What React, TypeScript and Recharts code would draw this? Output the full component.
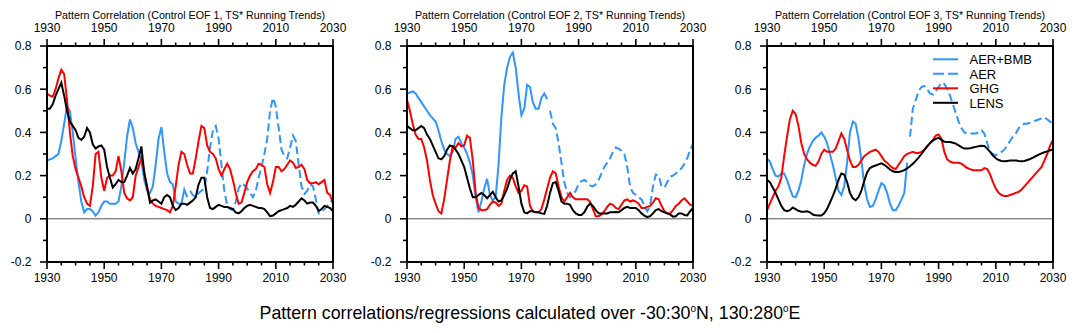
import React from "react";
import { LineChart, Line, XAxis, YAxis, ReferenceLine } from "recharts";

const FONT = "'Liberation Sans', Arial, Helvetica, sans-serif";
const BLUE = "#2f95ff";
const RED = "#ff0000";
const BLACK = "#000000";

const START_YEAR = 1930;
const AER_START = 1980;

const xTicks = [1930, 1935, 1940, 1945, 1950, 1955, 1960, 1965, 1970, 1975, 1980, 1985, 1990, 1995, 2000, 2005, 2010, 2015, 2020, 2025, 2030];
const xLabels = [1930, 1950, 1970, 1990, 2010, 2030];
const yTicks = [-0.2, -0.1, 0, 0.1, 0.2, 0.3, 0.4, 0.5, 0.6, 0.7, 0.8];
const yLabels = [-0.2, 0, 0.2, 0.4, 0.6, 0.8];

// ---- EOF 1 ----
const eof1AerBmb = [
  0.27, 0.275, 0.28, 0.29, 0.3, 0.36, 0.44, 0.52, 0.5, 0.4,
  0.28, 0.17, 0.08, 0.03, 0.045, 0.045, 0.035, 0.015, 0.03, 0.06,
  0.08, 0.08, 0.07, 0.07, 0.07, 0.08, 0.15, 0.26, 0.38, 0.46,
  0.42, 0.35, 0.31, 0.27, 0.18, 0.13, 0.12, 0.15, 0.25, 0.37,
  0.425, 0.31, 0.21, 0.17, 0.16, 0.08, 0.07, 0.07, 0.135, 0.1,
];
const eof1Aer = [
  0.13, 0.11, 0.1, 0.12, 0.13, 0.14, 0.22, 0.33, 0.41, 0.43,
  0.37, 0.25, 0.13, 0.06, 0.045, 0.04, 0.08, 0.14, 0.165, 0.155,
  0.14, 0.12, 0.1, 0.13, 0.19, 0.24, 0.3, 0.37, 0.5, 0.56,
  0.52, 0.42, 0.32, 0.29, 0.28, 0.33, 0.385, 0.36, 0.25, 0.15,
  0.115, 0.13, 0.16, 0.15, 0.09, 0.025, 0.03, 0.045, 0.06, 0.075, 0.09,
];
const eof1Ghg = [
  0.58, 0.57, 0.565, 0.6, 0.65, 0.69, 0.67, 0.55, 0.4, 0.29,
  0.23, 0.19, 0.15, 0.1, 0.07, 0.06, 0.15, 0.3, 0.31, 0.19,
  0.13, 0.19, 0.2, 0.2, 0.22, 0.29, 0.22, 0.12, 0.095, 0.085,
  0.1, 0.2, 0.24, 0.28, 0.22, 0.14, 0.09, 0.07, 0.06, 0.055,
  0.05, 0.045, 0.04, 0.03, 0.06, 0.15, 0.25, 0.31, 0.3, 0.25,
  0.21, 0.21, 0.28, 0.36, 0.43, 0.42, 0.34, 0.31, 0.3, 0.28,
  0.23, 0.2, 0.23, 0.255, 0.23, 0.18, 0.12, 0.07, 0.075, 0.12,
  0.17, 0.2, 0.22, 0.23, 0.255, 0.25, 0.24, 0.16, 0.12, 0.17,
  0.24, 0.24, 0.22, 0.23, 0.25, 0.27, 0.26, 0.235, 0.24, 0.25,
  0.23, 0.18, 0.165, 0.165, 0.17, 0.16, 0.17, 0.18, 0.12, 0.11,
  0.07,
];
const eof1Lens = [
  0.51, 0.51, 0.53, 0.57, 0.6, 0.63, 0.57, 0.5, 0.45, 0.43,
  0.41, 0.375, 0.365, 0.38, 0.42, 0.4, 0.345, 0.325, 0.335, 0.34,
  0.32, 0.24, 0.19, 0.145, 0.16, 0.18, 0.17, 0.17, 0.2, 0.235,
  0.21, 0.23, 0.28, 0.335, 0.21, 0.15, 0.075, 0.085, 0.09, 0.08,
  0.07, 0.1, 0.11, 0.1, 0.06, 0.04, 0.05, 0.07, 0.07, 0.065,
  0.075, 0.085, 0.1, 0.16, 0.19, 0.19, 0.1, 0.05, 0.045, 0.055,
  0.065, 0.06, 0.055, 0.055, 0.05, 0.045, 0.03, 0.025, 0.035, 0.05,
  0.06, 0.065, 0.06, 0.055, 0.05, 0.05, 0.045, 0.03, 0.012, 0.015,
  0.025, 0.035, 0.04, 0.045, 0.05, 0.06, 0.055, 0.065, 0.08, 0.095,
  0.085, 0.07, 0.075, 0.075, 0.06, 0.036, 0.045, 0.06, 0.055, 0.05,
  0.035,
];

// ---- EOF 2 ----
const eof2AerBmb = [
  0.58, 0.585, 0.59, 0.58, 0.56, 0.54, 0.52, 0.5, 0.48, 0.465,
  0.45, 0.41, 0.36, 0.32, 0.3, 0.29, 0.31, 0.37, 0.38, 0.35,
  0.33, 0.3, 0.26, 0.2, 0.1, 0.03, 0.08, 0.14, 0.185, 0.11,
  0.085, 0.1, 0.25, 0.47, 0.62, 0.7, 0.75, 0.77, 0.7, 0.58,
  0.48, 0.51, 0.62, 0.61, 0.54, 0.51, 0.51, 0.56, 0.58, 0.555,
];
const eof2Aer = [
  0.5, 0.44, 0.42, 0.35, 0.26, 0.17, 0.12, 0.1, 0.11, 0.13,
  0.16, 0.175, 0.18, 0.17, 0.155, 0.15, 0.16, 0.18, 0.21, 0.24,
  0.26, 0.28, 0.31, 0.33, 0.325, 0.315, 0.3, 0.24, 0.15, 0.12,
  0.11, 0.1, 0.09, 0.06, 0.035, 0.06, 0.15, 0.205, 0.2, 0.15,
  0.145, 0.17, 0.195, 0.2, 0.21, 0.22, 0.235, 0.255, 0.28, 0.32, 0.345,
];
const eof2Ghg = [
  0.55, 0.5, 0.44, 0.39, 0.37, 0.37, 0.33, 0.27, 0.18, 0.11,
  0.07, 0.035, 0.025, 0.09, 0.18, 0.27, 0.335, 0.33, 0.35, 0.335,
  0.34, 0.385, 0.375, 0.27, 0.12, 0.05, 0.04, 0.04, 0.045, 0.065,
  0.08, 0.075, 0.06, 0.07, 0.13, 0.18, 0.2, 0.19, 0.15, 0.12,
  0.13, 0.155, 0.15, 0.06, 0.035, 0.03, 0.03, 0.045, 0.09, 0.14,
  0.19, 0.22, 0.21, 0.15, 0.1, 0.08, 0.1, 0.12, 0.1, 0.09,
  0.09, 0.09, 0.09, 0.09, 0.08, 0.045, 0.012, 0.012, 0.02, 0.035,
  0.055, 0.07, 0.065, 0.05, 0.045, 0.065, 0.085, 0.09, 0.08, 0.085,
  0.08, 0.07, 0.05, 0.05, 0.055, 0.06, 0.075, 0.095, 0.09, 0.06,
  0.035, 0.025, 0.025, 0.04, 0.06, 0.07, 0.085, 0.095, 0.08, 0.065,
  0.06,
];
const eof2Lens = [
  0.43, 0.42, 0.41, 0.41, 0.42, 0.43, 0.42, 0.39, 0.37, 0.34,
  0.31, 0.28, 0.275, 0.29, 0.32, 0.34, 0.335, 0.32, 0.3, 0.27,
  0.24, 0.19, 0.14, 0.1, 0.1, 0.11, 0.12, 0.11, 0.095, 0.11,
  0.125, 0.1, 0.08, 0.085, 0.11, 0.14, 0.18, 0.21, 0.22, 0.15,
  0.07, 0.03, 0.025, 0.035, 0.035, 0.03, 0.03, 0.025, 0.023, 0.06,
  0.12, 0.165, 0.17, 0.13, 0.08, 0.07, 0.07, 0.065, 0.04, 0.025,
  0.018, 0.018, 0.03, 0.055, 0.07, 0.06, 0.04, 0.026, 0.025, 0.025,
  0.025, 0.03, 0.03, 0.032, 0.03, 0.04, 0.05, 0.055, 0.05, 0.05,
  0.05, 0.04, 0.025, 0.015, 0.008, 0.012, 0.025, 0.04, 0.045, 0.035,
  0.03, 0.025, 0.02, 0.01, 0.012, 0.025, 0.025, 0.018, 0.016, 0.035,
  0.05,
];

// ---- EOF 3 ----
const eof3AerBmb = [
  0.28, 0.265, 0.23, 0.2, 0.195, 0.21, 0.21, 0.18, 0.14, 0.105,
  0.1, 0.13, 0.18, 0.25, 0.3, 0.335, 0.36, 0.375, 0.385, 0.4,
  0.38, 0.35, 0.3, 0.25, 0.19, 0.13, 0.11, 0.15, 0.26, 0.4,
  0.45, 0.44, 0.37, 0.27, 0.16, 0.09, 0.055, 0.06, 0.09, 0.13,
  0.165, 0.155, 0.12, 0.07, 0.04, 0.04, 0.06, 0.09, 0.12, 0.26,
];
const eof3Aer = [
  0.38, 0.51, 0.55, 0.59, 0.61, 0.615, 0.6, 0.58, 0.575, 0.59,
  0.61, 0.63, 0.625, 0.6, 0.57, 0.53, 0.49, 0.45, 0.42, 0.4,
  0.395, 0.395, 0.395, 0.395, 0.4, 0.41, 0.395, 0.35, 0.31, 0.3,
  0.295, 0.3, 0.31, 0.32, 0.34, 0.36, 0.38, 0.395, 0.42, 0.435,
  0.44, 0.44, 0.445, 0.45, 0.455, 0.46, 0.465, 0.47, 0.46, 0.45, 0.44,
];
const eof3Ghg = [
  0.04, 0.07, 0.1, 0.13, 0.15, 0.19, 0.29, 0.38, 0.46, 0.5,
  0.485, 0.43, 0.35, 0.3, 0.275, 0.26, 0.25, 0.245, 0.265, 0.3,
  0.32, 0.31, 0.31, 0.31, 0.325, 0.36, 0.395, 0.37, 0.32, 0.27,
  0.24, 0.24, 0.25, 0.27, 0.29, 0.3, 0.31, 0.315, 0.32, 0.31,
  0.29, 0.27, 0.26, 0.245, 0.235, 0.23, 0.25, 0.27, 0.29, 0.3,
  0.305, 0.31, 0.305, 0.305, 0.31, 0.32, 0.335, 0.35, 0.365, 0.385,
  0.39, 0.37, 0.31, 0.275, 0.265, 0.26, 0.26, 0.26, 0.255, 0.245,
  0.235, 0.23, 0.225, 0.225, 0.225, 0.225, 0.235, 0.23, 0.205, 0.17,
  0.14, 0.12, 0.11, 0.105, 0.105, 0.11, 0.115, 0.12, 0.125, 0.135,
  0.15, 0.165, 0.18, 0.195, 0.21, 0.225, 0.24, 0.27, 0.3, 0.34,
  0.365,
];
const eof3Lens = [
  0.18, 0.17, 0.145, 0.12, 0.09, 0.06, 0.04, 0.035, 0.04, 0.052,
  0.045, 0.037, 0.033, 0.033, 0.035, 0.03, 0.02, 0.016, 0.015, 0.015,
  0.025, 0.045, 0.075, 0.105, 0.14, 0.18, 0.21, 0.205, 0.17, 0.12,
  0.095, 0.086, 0.1, 0.13, 0.175, 0.215, 0.235, 0.242, 0.247, 0.252,
  0.257, 0.25, 0.24, 0.228, 0.22, 0.217, 0.217, 0.22, 0.225, 0.233,
  0.243, 0.255, 0.268, 0.283, 0.3, 0.318, 0.335, 0.35, 0.362, 0.37,
  0.375, 0.365, 0.357, 0.355, 0.355, 0.352, 0.348, 0.34, 0.332, 0.325,
  0.325, 0.326, 0.33, 0.333, 0.336, 0.338, 0.337, 0.325, 0.31, 0.293,
  0.28, 0.272, 0.268, 0.266, 0.268, 0.27, 0.27, 0.27, 0.268, 0.267,
  0.268, 0.272, 0.277, 0.283, 0.29, 0.297, 0.303, 0.308, 0.312, 0.317,
  0.32,
];

const titles = [
  "Pattern Correlation (Control EOF 1, TS* Running Trends)",
  "Pattern Correlation (Control EOF 2, TS* Running Trends)",
  "Pattern Correlation (Control EOF 3, TS* Running Trends)",
];

const legendItems = [
  { name: "AER+BMB", color: BLUE, dash: undefined },
  { name: "AER", color: BLUE, dash: "11 4" },
  { name: "GHG", color: RED, dash: undefined },
  { name: "LENS", color: BLACK, dash: undefined },
];

function buildRows(aerBmb: number[], aer: number[], ghg: number[], lens: number[]) {
  return ghg.map((g, i) => {
    const year = START_YEAR + i;
    return {
      year,
      aerBmb: i < aerBmb.length ? aerBmb[i] : null,
      aer: year >= AER_START ? aer[year - AER_START] : null,
      ghg: g,
      lens: lens[i],
    };
  });
}

const panels = [
  buildRows(eof1AerBmb, eof1Aer, eof1Ghg, eof1Lens),
  buildRows(eof2AerBmb, eof2Aer, eof2Ghg, eof2Lens),
  buildRows(eof3AerBmb, eof3Aer, eof3Ghg, eof3Lens),
];

const TW = 1.6;

function BottomTick({ x, y, payload }: any) {
  const major = xLabels.includes(payload.value);
  return (
    <g>
      <line x1={x} x2={x} y1={y} y2={y + (major ? 7 : 3.5)} stroke="#000" strokeWidth={TW} />
      {major && (
        <text x={x} y={y + 20} textAnchor="middle" fontSize={12} fontFamily={FONT} fill="#000">
          {payload.value}
        </text>
      )}
    </g>
  );
}

function TopTick({ x, y, payload }: any) {
  const major = xLabels.includes(payload.value);
  return (
    <g>
      <line x1={x} x2={x} y1={y} y2={y - (major ? 7 : 3.5)} stroke="#000" strokeWidth={TW} />
      {major && (
        <text x={x} y={y - 14} textAnchor="middle" fontSize={12} fontFamily={FONT} fill="#000">
          {payload.value}
        </text>
      )}
    </g>
  );
}

function LeftTick({ x, y, payload }: any) {
  const major = yLabels.includes(payload.value);
  const v = payload.value;
  return (
    <g>
      <line x1={x} x2={x - (major ? 7 : 4)} y1={y} y2={y} stroke="#000" strokeWidth={TW} />
      {major && (
        <text x={x - 15.5} y={y + 4.3} textAnchor="end" fontSize={12} fontFamily={FONT} fill="#000">
          {v === 0 ? "0" : v.toFixed(1)}
        </text>
      )}
    </g>
  );
}

function RightTick({ x, y, payload }: any) {
  const major = yLabels.includes(payload.value);
  return <line x1={x} x2={x + (major ? 7 : 4)} y1={y} y2={y} stroke="#000" strokeWidth={TW} />;
}

const axisLine = { stroke: "#000", strokeWidth: 2 };

function Panel({ rows, width }: { rows: any[]; width: number }) {
  return (
    <LineChart width={width} height={290} data={rows} margin={{ top: 0, right: 0, bottom: 0, left: 0 }}>
      <XAxis xAxisId="bottom" dataKey="year" type="number" domain={[1930, 2030]} ticks={xTicks}
        interval={0} tickSize={0} tickMargin={0} tickLine={false} axisLine={axisLine} tick={BottomTick} height={28} />
      <XAxis xAxisId="top" orientation="top" dataKey="year" type="number" domain={[1930, 2030]} ticks={xTicks}
        interval={0} tickSize={0} tickMargin={0} tickLine={false} axisLine={axisLine} tick={TopTick} height={46} />
      <YAxis yAxisId="left" type="number" domain={[-0.2, 0.8]} ticks={yTicks}
        interval={0} tickSize={0} tickMargin={0} tickLine={false} axisLine={axisLine} tick={LeftTick} width={47} />
      <YAxis yAxisId="right" orientation="right" type="number" domain={[-0.2, 0.8]} ticks={yTicks}
        interval={0} tickSize={0} tickMargin={0} tickLine={false} axisLine={axisLine} tick={RightTick} width={width - 333} />
      <ReferenceLine xAxisId="bottom" yAxisId="left" y={0} stroke="#555" strokeWidth={1} />
      <Line xAxisId="bottom" yAxisId="left" dataKey="aerBmb" stroke={BLUE} strokeWidth={2} dot={false} type="linear" isAnimationActive={false} />
      <Line xAxisId="bottom" yAxisId="left" dataKey="aer" stroke={BLUE} strokeWidth={2} strokeDasharray="8 4" dot={false} type="linear" isAnimationActive={false} />
      <Line xAxisId="bottom" yAxisId="left" dataKey="ghg" stroke={RED} strokeWidth={2} dot={false} type="linear" isAnimationActive={false} />
      <Line xAxisId="bottom" yAxisId="left" dataKey="lens" stroke={BLACK} strokeWidth={2} dot={false} type="linear" isAnimationActive={false} />
    </LineChart>
  );
}

export default function App() {
  return (
    <div style={{ position: "absolute", left: 0, top: 0, width: 1078, height: 333, overflow: "hidden", background: "#fff" }}>
      {panels.map((rows, i) => (
        <div key={i} style={{ position: "absolute", left: i * 360, top: 0 }}>
          <Panel rows={rows} width={i === 2 ? 358 : 360} />
        </div>
      ))}
      <svg width={1078} height={333} style={{ position: "absolute", left: 0, top: 0, pointerEvents: "none" }}>
        {titles.map((t, i) => (
          <text key={t} x={190 + i * 360} y={18.5} textAnchor="middle" fontSize={10.7} fontFamily={FONT} fill="#000">
            {t}
          </text>
        ))}
        {legendItems.map((item, i) => {
          const y = 59.3 + i * 14.5;
          return (
            <g key={item.name}>
              <line x1={933} x2={958} y1={y} y2={y} stroke={item.color} strokeWidth={2} strokeDasharray={item.dash} />
              <text x={969.5} y={y + 4.7} fontSize={13} fontFamily={FONT} fill="#000">
                {item.name}
              </text>
            </g>
          );
        })}
        <text x={530} y={319} textAnchor="middle" fontSize={17.8} fontFamily={FONT} fill="#000">
          Pattern correlations/regressions calculated over -30:30
          <tspan fontSize={10} dy={-7}>o</tspan>
          <tspan dy={7}>N, 130:280</tspan>
          <tspan fontSize={10} dy={-7}>o</tspan>
          <tspan dy={7}>E</tspan>
        </text>
      </svg>
    </div>
  );
}
